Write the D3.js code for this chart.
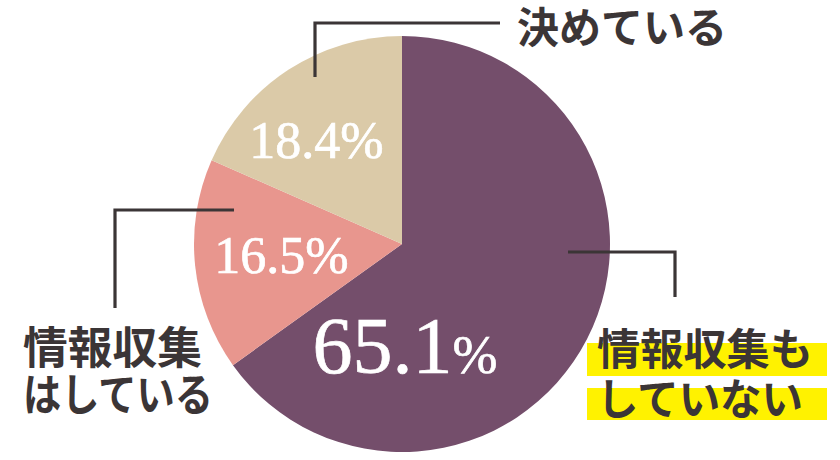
<!DOCTYPE html>
<html><head><meta charset="utf-8">
<script src="https://cdn.jsdelivr.net/npm/d3@7"></script>
<style>html,body{margin:0;padding:0;background:#fff;}svg{display:block;}</style>
</head><body>
<script>
const categories = ["情報収集もしていない", "情報収集はしている", "決めている"];
const values = [65.1, 16.5, 18.4];
const valueLabels = ["65.1", "16.5", "18.4"];
const labelLines = [["情報収集も", "していない"], ["情報収集", "はしている"], ["決めている"]];
const colors = ["#744e6b", "#e8968e", "#dbcaa8"];

const W = 840, H = 460;
const cx = 402, cy = 244, R = 208;
const ink = "#3b3536";

const svg = d3.select("body").append("svg").attr("width", W).attr("height", H);

const pie = d3.pie().sort(null).value(d => d).startAngle(0).endAngle(2 * Math.PI);
const arcs = pie(values);
const arc = d3.arc().innerRadius(0).outerRadius(R);

const g = svg.append("g").attr("transform", `translate(${cx},${cy})`);
g.selectAll("path").data(arcs).join("path")
  .attr("d", arc).attr("fill", (d, i) => colors[i]);

// value labels layout (pixels)
const valLayout = [
  {x: 405, y: 373, big: 80, pct: 54},
  {x: 281.5, y: 273, big: 52, pct: 52},
  {x: 316.5, y: 158, big: 52, pct: 52}
];
arcs.forEach((a, i) => {
  const L = valLayout[i];
  const t = svg.append("text").attr("x", L.x).attr("y", L.y)
    .attr("text-anchor", "middle").attr("fill", "#fff")
    .attr("stroke", "#fff").attr("stroke-width", 0.7)
    .style("font-family", "'Liberation Serif','DejaVu Serif',serif");
  t.append("tspan").style("font-size", L.big + "px").text(valueLabels[i]);
  t.append("tspan").style("font-size", L.pct + "px").text("%");
});

// leader lines
const leaders = [
  [[568, 252], [675, 252], [675, 297]],
  [[234, 210], [115, 210], [115, 308]],
  [[315, 77], [315, 23], [500, 23]]
];
const line = d3.line();
svg.selectAll("path.leader").data(leaders).join("path")
  .attr("class", "leader").attr("d", line)
  .attr("fill", "none").attr("stroke", ink).attr("stroke-width", 3.2);

// highlight for right label
const hl = [[587, 343, 240, 33], [587, 388, 240, 32]];
svg.selectAll("rect.hl").data(hl).join("rect").attr("class", "hl")
  .attr("x", d => d[0]).attr("y", d => d[1]).attr("width", d => d[2]).attr("height", d => d[3])
  .attr("fill", "#fff200");

const textLayout = [
  {x: 597, ys: [365, 415], size: 43, lens: [216, 206]},
  {x: 23, ys: [364, 411], size: 44, lens: [179, 190]},
  {x: 517, ys: [43], size: 42, lens: [210]}
];
labelLines.forEach((lines, i) => {
  const L = textLayout[i];
  lines.forEach((s, j) => {
    svg.append("text").attr("x", L.x).attr("y", L.ys[j])
      .attr("textLength", L.lens[j]).attr("lengthAdjust", "spacingAndGlyphs")
      .attr("fill", ink)
      .style("font-family", "'Noto Sans CJK JP','Noto Sans',sans-serif")
      .style("font-weight", 700)
      .style("font-size", L.size + "px")
      .text(s);
  });
});
</script>
</body></html>
